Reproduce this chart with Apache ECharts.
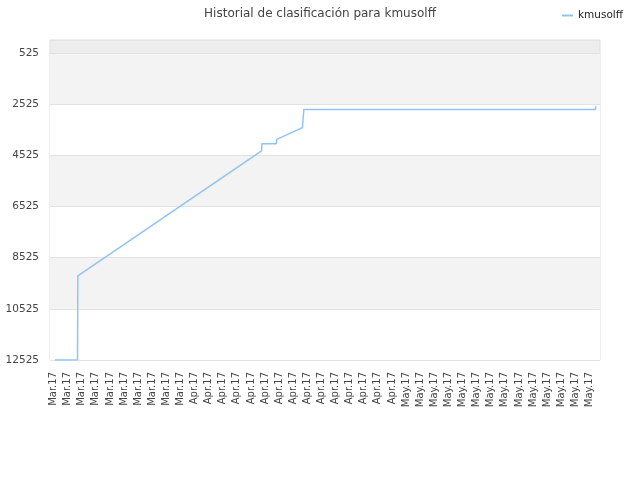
<!DOCTYPE html>
<html>
<head>
<meta charset="utf-8">
<script src="https://cdn.jsdelivr.net/npm/echarts@6/dist/echarts.min.js"></script>
<style>
  html, body { margin: 0; padding: 0; background: #fff; }
  #chart { width: 640px; height: 480px; }
</style>
</head>
<body>
<div id="chart"></div>
<script>
// dias desde el 12 de marzo (0) hasta el 28 de mayo (77)
const months = ["Mar.17", "Apr.17", "May.17"];
const labelDays = [0, 2, 4, 6, 8, 10, 12, 14, 16, 18,
    20, 22, 24, 26, 28, 30, 32, 34, 36, 38, 40, 42, 44, 46, 48,
    50, 52, 54, 56, 58, 60, 62, 64, 66, 68, 70, 72, 74, 76];
const labelMonth = [0, 0, 0, 0, 0, 0, 0, 0, 0, 0,
    1, 1, 1, 1, 1, 1, 1, 1, 1, 1, 1, 1, 1, 1, 1,
    2, 2, 2, 2, 2, 2, 2, 2, 2, 2, 2, 2, 2, 2];

// posicion (dia) y puesto de clasificacion
const rankDays = [0.2, 3.4, 3.45, 29.5, 29.55, 31.6, 31.65, 35.3, 35.4, 35.5, 76.85, 76.9];
const rankValues = [12525, 12525, 9240, 4360, 4075, 4075, 3905, 3450, 3060, 2735, 2735, 2610];

const yTicks = [525, 2525, 4525, 6525, 8525, 10525, 12525];

const seriesData = rankDays.map((d, i) => [d, rankValues[i]]);

const chart = echarts.init(document.getElementById("chart"));
chart.setOption({
    animation: false,
    backgroundColor: "#fff",
    title: {
        text: "Historial de clasificación para kmusolff",
        left: "center",
        top: 3,
        textStyle: { fontFamily: "DejaVu Sans", fontSize: 12, fontWeight: "normal", color: "#444" }
    },
    legend: {
        right: 12,
        top: 5,
        itemWidth: 11,
        itemHeight: 2,
        itemGap: 6,
        icon: "rect",
        textStyle: { fontFamily: "DejaVu Sans", fontSize: 10.5, color: "#222" },
        data: ["kmusolff"]
    },
    grid: {
        left: 50, right: 40, top: 40, bottom: 120,
        show: true, borderColor: "#dddddd", borderWidth: 1, backgroundColor: "#ededed"
    },
    xAxis: {
        type: "value",
        min: -0.5,
        max: 77.5,
        axisLine: { show: false },
        axisTick: { show: false, customValues: labelDays },
        splitLine: { show: false },
        axisLabel: {
            customValues: labelDays,
            rotate: 90,
            margin: 12,
            fontFamily: "DejaVu Sans",
            fontSize: 10,
            color: "#444",
            formatter: v => months[labelMonth[labelDays.indexOf(Math.round(v))]] || ""
        }
    },
    yAxis: {
        type: "value",
        inverse: true,
        min: 25,
        max: 12525,
        axisLine: { show: false },
        axisTick: { show: false, customValues: yTicks },
        axisLabel: {
            customValues: yTicks,
            margin: 11,
            fontFamily: "DejaVu Sans",
            fontSize: 10.5,
            color: "#444",
            formatter: v => String(v)
        },
        splitLine: { show: true, lineStyle: { color: "#e2e2e2", width: 1 } },
        splitArea: {
            show: true,
            areaStyle: { color: ["#f3f3f3", "#ffffff"] }
        }
    },
    series: [{
        name: "kmusolff",
        type: "line",
        data: seriesData,
        showSymbol: false,
        symbol: "none",
        lineStyle: { color: "#90c4f5", width: 1.5 },
        itemStyle: { color: "#90c4f5" }
    }]
});
</script>
</body>
</html>
